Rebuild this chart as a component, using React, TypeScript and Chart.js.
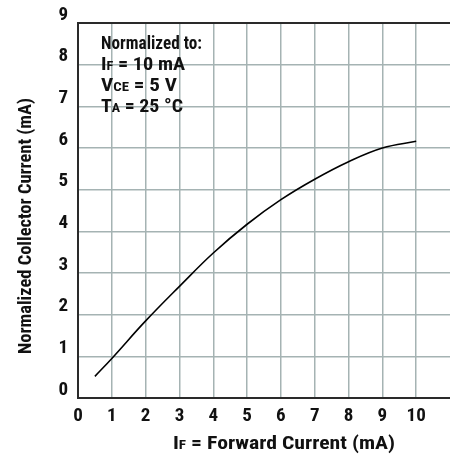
import React, { useEffect, useRef } from 'react';
import { Chart, registerables } from 'chart.js';

Chart.register(...registerables);

// ---- data ----
const forwardCurrent = [0.5, 1, 2, 3, 4, 5, 6, 7, 8, 9, 10];
const normalizedCollector = [0.52, 0.95, 1.85, 2.68, 3.48, 4.17, 4.76, 5.25, 5.67, 6.0, 6.16];
const xMin = 0;
const xMax = 11;
const yMin = 0;
const yMax = 9;
const xTitleParts: [string, boolean][] = [['I', false], ['F', true], [' = Forward Current (mA)', false]];
const yTitle = 'Normalized Collector Current (mA)';
const noteLines: [string, boolean][][] = [
  [['Normalized to:', false]],
  [['I', false], ['F', true], [' = 10 mA', false]],
  [['V', false], ['CE', true], [' = 5 V', false]],
  [['T', false], ['A', true], [' = 25 °C', false]],
];

const FONT = "'Liberation Sans Narrow', 'Roboto Condensed', 'DejaVu Sans Condensed', 'Arial Narrow', sans-serif";
const GRID = '#a5b3b3';
const AXIS = '#2a2a2a';

function drawParts(
  ctx: CanvasRenderingContext2D,
  parts: [string, boolean][],
  x: number,
  y: number,
  big: number,
  small: number,
  align: 'left' | 'center',
  targetWidth?: number
) {
  const widths = parts.map(([t, s]) => {
    ctx.font = `bold ${s ? small : big}px ${FONT}`;
    return ctx.measureText(t).width;
  });
  const total = widths.reduce((a, b) => a + b, 0);
  const sx = targetWidth ? targetWidth / total : 1;
  ctx.save();
  ctx.translate(align === 'center' ? x - (total * sx) / 2 : x, y);
  ctx.scale(sx, 1);
  let cx = 0;
  ctx.textAlign = 'left';
  ctx.textBaseline = 'alphabetic';
  parts.forEach(([t, s], i) => {
    ctx.font = `bold ${s ? small : big}px ${FONT}`;
    ctx.fillText(t, cx, 0);
    cx += widths[i];
  });
  ctx.restore();
}

const textPlugin = {
  id: 'textPlugin',
  afterDraw(chart: any) {
    const ctx: CanvasRenderingContext2D = chart.ctx;
    ctx.save();
    ctx.fillStyle = '#111';
    // note box
    const noteWidths = [101, 84, 76, 82];
    noteLines.forEach((line, i) => {
      drawParts(ctx, line, 101, 48.5 + i * 21.3, 18.5, 13, 'left', noteWidths[i]);
    });
    // x title
    drawParts(ctx, xTitleParts, 284, 449, 18.5, 13, 'center', 222);
    // y title
    ctx.save();
    ctx.translate(31, 226);
    ctx.rotate(-Math.PI / 2);
    ctx.font = `bold 18.5px ${FONT}`;
    const w = ctx.measureText(yTitle).width;
    ctx.scale(256 / w, 1);
    ctx.textAlign = 'center';
    ctx.textBaseline = 'alphabetic';
    ctx.fillText(yTitle, 0, 0);
    ctx.restore();
    ctx.restore();
  },
};

export default function App() {
  const ref = useRef<HTMLCanvasElement | null>(null);
  useEffect(() => {
    if (!ref.current) return;
    const chart = new Chart(ref.current, {
      type: 'line',
      data: {
        datasets: [
          {
            data: forwardCurrent.map((x, i) => ({ x, y: normalizedCollector[i] })),
            borderColor: '#000',
            borderWidth: 1.6,
            pointRadius: 0,
            fill: false,
            tension: 0.4,
          },
        ],
      },
      options: {
        responsive: false,
        animation: false,
        devicePixelRatio: 1,
        layout: { padding: { top: 23, right: 10, left: 0, bottom: 0 } },
        plugins: { legend: { display: false }, tooltip: { enabled: false } },
        scales: {
          x: {
            type: 'linear',
            min: xMin,
            max: xMax,
            afterFit: (s: any) => { s.height = 64; },
            ticks: {
              stepSize: 1,
              color: '#111',
              font: { family: FONT, size: 19, weight: 'bold' },
              padding: 7,
              maxRotation: 0,
              callback: (v: any) => (v === xMax ? '' : String(v)),
            },
            grid: {
              drawTicks: false,
              color: (c: any) => (c.tick && c.tick.value === xMax ? 'rgba(0,0,0,0)' : GRID),
              lineWidth: 1.5,
            },
            border: { display: true, color: AXIS, width: 2 },
          },
          y: {
            type: 'linear',
            min: yMin,
            max: yMax,
            afterFit: (s: any) => { s.width = 78; },
            ticks: {
              stepSize: 1,
              color: '#111',
              font: { family: FONT, size: 19, weight: 'bold' },
              padding: 10,
              labelOffset: -8,
            },
            grid: {
              drawTicks: false,
              color: (c: any) => (c.tick && c.tick.value === yMax ? AXIS : GRID),
              lineWidth: (c: any) => (c.tick && c.tick.value === yMax ? 2 : 1.5),
            },
            border: { display: true, color: AXIS, width: 2 },
          },
        },
      },
      plugins: [textPlugin],
    } as any);
    return () => chart.destroy();
  }, []);
  return (
    <div style={{ position: 'fixed', left: 0, top: 0, width: 450, height: 462, overflow: 'hidden', background: '#fff' }}>
      <canvas ref={ref} width={460} height={462} style={{ display: 'block' }} />
    </div>
  );
}
